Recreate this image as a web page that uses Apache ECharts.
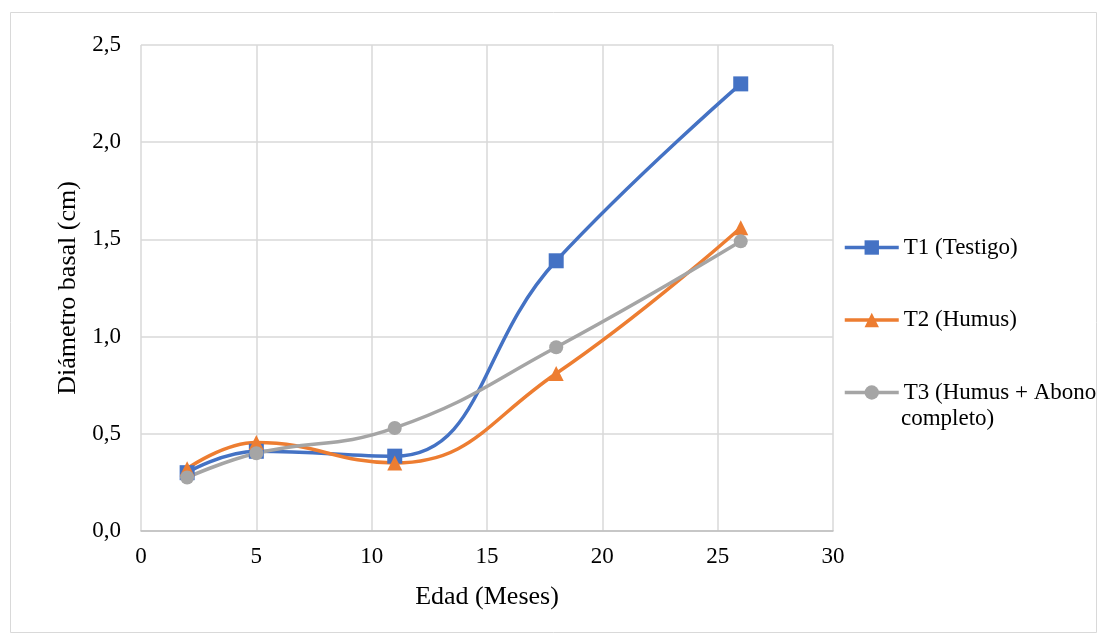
<!DOCTYPE html>
<html><head><meta charset="utf-8">
<script src="https://cdn.jsdelivr.net/npm/echarts@6/dist/echarts.min.js"></script>
<style>html,body{margin:0;padding:0;background:#fff}#c{width:1107px;height:642px}</style>
</head><body><div id="c"></div>
<script>
const ages = [2, 5, 11, 18, 26];
const t1 = [0.30, 0.41, 0.385, 1.39, 2.30];
const t2 = [0.32, 0.455, 0.35, 0.81, 1.56];
const t3 = [0.275, 0.40, 0.53, 0.945, 1.49];
const names = ['T1 (Testigo)', 'T2 (Humus)', 'T3 (Humus + Abono completo)'];
const legendLines = {'T3 (Humus + Abono completo)': 'T3 (Humus + Abono'};
const colors = ['#4472C4', '#ED7D31', '#A5A5A5'];
const symbols = ['rect', 'triangle', 'circle'];
const font = 'Liberation Serif';
const chart = echarts.init(document.getElementById('c'));
function mk(i, vals){
  return {
    name: names[i], type: 'line', smooth: 0.45,
    data: ages.map((a, k) => [a, vals[k]]),
    symbol: symbols[i], symbolSize: i === 2 ? 14 : 15,
    lineStyle: {color: colors[i], width: 3.5},
    itemStyle: {color: colors[i]}
  };
}
chart.setOption({
  backgroundColor: '#fff',
  animation: false,
  textStyle: {fontFamily: font},
  graphic: [
    {type: 'rect', shape: {x: 10.5, y: 12.5, width: 1086, height: 620}, style: {fill: 'none', stroke: '#d9d9d9', lineWidth: 1}, silent: true},
    {type: 'text', left: 901, top: 407, style: {text: 'completo)', font: '23px "Liberation Serif"', fill: '#000'}, silent: true}
  ],
  grid: {left: 141, right: 274, top: 45, bottom: 111},
  xAxis: {
    type: 'value', min: 0, max: 30, interval: 5,
    name: 'Edad (Meses)', nameLocation: 'middle', nameGap: 53,
    nameTextStyle: {fontFamily: font, fontSize: 26, color: '#000'},
    axisLine: {show: true, lineStyle: {color: '#bfbfbf', width: 1.5}},
    axisTick: {show: false},
    axisLabel: {fontFamily: font, fontSize: 23, color: '#000', margin: 14},
    splitLine: {show: true, lineStyle: {color: '#d9d9d9', width: 1.5}}
  },
  yAxis: {
    type: 'value', min: 0, max: 2.5, interval: 0.5,
    name: 'Diámetro basal (cm)', nameLocation: 'middle', nameGap: 56,
    nameTextStyle: {fontFamily: font, fontSize: 26, color: '#000'},
    axisLine: {show: false}, axisTick: {show: false},
    axisLabel: {fontFamily: font, fontSize: 23, color: '#000', margin: 20,
      formatter: v => v.toFixed(1).replace('.', ',')},
    splitLine: {show: true, lineStyle: {color: '#d9d9d9', width: 1.5}}
  },
  legend: {
    orient: 'vertical', left: 838, top: 230,
    itemWidth: 54, itemHeight: 18, itemGap: 47.5,
    lineStyle: {width: 3.5},
    formatter: n => legendLines[n] || n,
    textStyle: {fontFamily: font, fontSize: 23, color: '#000', lineHeight: 25},
    data: names
  },
  series: [mk(0, t1), mk(1, t2), mk(2, t3)]
});
</script></body></html>
